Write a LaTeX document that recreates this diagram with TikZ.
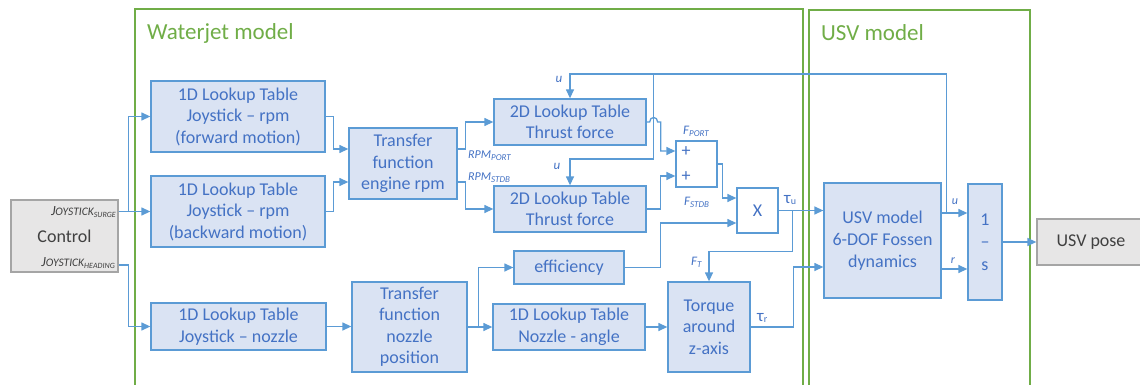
\documentclass[tikz,border=0pt]{standalone}
\usepackage{fontspec}
\setmainfont{Carlito}
\usetikzlibrary{arrows.meta,calc}
\definecolor{lblue}{HTML}{5B9BD5}
\definecolor{bfill}{HTML}{DAE3F3}
\definecolor{tblue}{HTML}{4472C4}
\definecolor{fgreen}{HTML}{70AD47}
\definecolor{gfill}{HTML}{E7E6E6}
\definecolor{gborder}{HTML}{A5A5A5}
\definecolor{gtext}{HTML}{404040}
\newcommand{\slab}[3]{{\fontsize{#1}{#1}\selectfont #2}\raisebox{-2pt}{\fontsize{9}{9}\selectfont #3}}
\newcommand{\joy}[1]{{\fontsize{14}{14}\selectfont J}{\fontsize{11.5}{11.5}\selectfont OYSTICK}\raisebox{-1.5pt}{\fontsize{8}{8}\selectfont #1}}
\begin{document}
\begin{tikzpicture}[x=1pt,y=-1pt,
  line/.style={draw=lblue,line width=1.3pt},
  arr/.style={line,-{Triangle[length=9pt,width=8pt]}},
  blk/.style={draw=lblue,fill=bfill,text=tblue,line width=1.3pt,align=center,inner sep=0pt,font=\fontsize{18}{21.5}\selectfont},
  wblk/.style={blk,fill=white},
  gblk/.style={draw=gborder,fill=gfill,text=gtext,line width=1.3pt,align=center,inner sep=0pt,font=\fontsize{18}{21.5}\selectfont},
  frame/.style={draw=fgreen,line width=1.2pt},
  ftitle/.style={anchor=west,text=fgreen,inner sep=0pt,font=\fontsize{23}{23}\selectfont},
  lbl/.style={text=tblue,inner sep=0pt,font=\itshape},
  sym/.style={text=tblue,inner sep=0pt,font=\fontsize{18}{18}\selectfont},
]
\useasboundingbox (0,0) rectangle (1140,385);
% frames
\draw[frame] (135,9) rectangle (803,395);
\draw[frame] (809,10) rectangle (1030,395);
\node[ftitle] (t1) at (147,33) {Waterjet model};
\node[ftitle] (t2) at (821,33) {USV model};

% blocks
\node[gblk,minimum width=107pt,minimum height=72pt] (ctrl) at (64.5,236) {Control};
\node[anchor=east,inner sep=0pt,text=gtext,font=\itshape] (js) at (116,212) {\joy{SURGE}};
\node[anchor=east,inner sep=0pt,text=gtext,font=\itshape] (jh) at (115,263) {\joy{HEADING}};

\node[blk,minimum width=174pt,minimum height=71pt] (fwd) at (238,116.5) {1D Lookup Table\\Joystick -- rpm\\(forward motion)};
\node[blk,minimum width=174pt,minimum height=71pt] (bwd) at (238,211.5) {1D Lookup Table\\Joystick -- rpm\\(backward motion)};
\node[blk,minimum width=175pt,minimum height=47pt] (lkn) at (238.5,326.5) {1D Lookup Table\\Joystick -- nozzle};
\node[blk,minimum width=108pt,minimum height=71pt] (tfe) at (403,163.5) {Transfer\\function\\engine rpm};
\node[blk,minimum width=115pt,minimum height=90pt] (tfn) at (409.5,327) {Transfer\\function\\nozzle\\position};
\node[blk,minimum width=152pt,minimum height=46pt] (tdt) at (570,122) {2D Lookup Table\\Thrust force};
\node[blk,minimum width=152pt,minimum height=46pt] (tdb) at (570,209) {2D Lookup Table\\Thrust force};
\node[blk,minimum width=110pt,minimum height=33pt] (eff) at (569,267.5) {efficiency};
\node[blk,minimum width=152pt,minimum height=46pt] (nza) at (569,327) {1D Lookup Table\\Nozzle - angle};
\node[wblk,minimum width=41pt,minimum height=46pt] (sum) at (696.5,164) {};
\node[sym] (p1) at (686,152) {+};
\node[sym] (p2) at (686,177) {+};
\node[wblk,minimum width=41pt,minimum height=45pt] (mul) at (757.5,210.5) {X};
\node[blk,minimum width=82pt,minimum height=90pt] (trq) at (709,327) {Torque\\around\\z-axis};
\node[blk,minimum width=117pt,minimum height=115pt,font=\fontsize{18}{22}\selectfont] (usv) at (882.5,240.5) {USV model\\6-DOF Fossen\\dynamics};
\node[blk,minimum width=34pt,minimum height=116pt,font=\fontsize{18}{22.5}\selectfont] (int) at (985,242) {1\\--\\s};
\node[gblk,minimum width=108pt,minimum height=46pt] (pose) at (1091,242) {USV pose};

% helper coordinates
\coordinate (ytop) at (0,74);
\coordinate (fb) at ($(usv.east)+(5,-27.5)$);
\coordinate (br) at ($(tdt.east |- ytop)+(7,0)$);
\coordinate (h) at (br |- tdt.east);
\coordinate (b2) at ($(mul.east)+(14,0)$);
\coordinate (b3) at ($(tfn.east)+(11,0)$);

% control connections
\draw[arr] (ctrl.east |- bwd.west) -- (bwd.west);
\draw[arr] (ctrl.east |- bwd.west) -- ++(10,0) |- (fwd.west);
\draw[arr] ($(ctrl.east)+(0,29)$) -- ++(10,0) |- (lkn.west);

% rpm path
\draw[arr] (fwd.east) -- ++(8,0) |- ($(tfe.west)+(0,-14.5)$);
\draw[arr] (bwd.east) -- ++(8,0) |- ($(tfe.west)+(0,18.5)$);
\draw[arr] ($(tfe.east)+(0,-14.5)$) -- ++(8,0) |- (tdt.west);
\draw[arr] ($(tfe.east)+(0,18.5)$) -- ++(8,0) |- (tdb.west);

% u feedback
\draw[arr] (fb) -- (fb |- ytop) -| (tdt.north);
\draw[arr] (br) -- ($(br)+(0,85)$) -| (tdb.north);

% thrust to sum
\draw[arr] (tdt.east) -- ($(h)+(-4,0)$) .. controls ($(h)+(-4,-6)$) and ($(h)+(4,-6)$) .. ($(h)+(4,0)$) -- ($(h)+(7,0)$) |- ($(sum.west)+(0,-13)$);
\draw[arr] (tdb.east) -- ($(h |- tdb.east)+(7,0)$) |- ($(sum.west)+(0,12)$);
\draw[arr] (sum.east) -- ++(5,0) |- ($(mul.west)+(0,-12.5)$);
\draw[arr] (eff.east) -- ++(36,0) |- ($(mul.west)+(0,12.5)$);
\draw[arr] (mul.east) -- (usv.west |- mul.east);
\draw[arr] (b2) |- ($(trq.north)+(0,-30)$) -- (trq.north);

% nozzle path
\draw[arr] (lkn.east) -- (tfn.west |- lkn.east);
\draw[arr] (tfn.east) -- (nza.west);
\draw[arr] (b3) |- (eff.west);
\draw[arr] (nza.east) -- (trq.west);
\draw[arr] (trq.east) -- ++(43,0) |- ($(usv.west)+(0,26.5)$);

% usv outputs
\draw[arr] ($(usv.east)+(0,-27.5)$) -- ($(int.west)+(0,-29)$);
\draw[arr] ($(usv.east)+(0,28.5)$) -- ($(int.west)+(0,27)$);
\draw[arr] (int.east) -- (pose.west);

% labels
\node[lbl,font=\fontsize{13}{13}\selectfont\itshape] (lu1) at (559,79) {u};
\node[lbl,font=\fontsize{13}{13}\selectfont\itshape] (lu2) at (557,166) {u};
\node[lbl,anchor=west] (lrp) at (468,156) {\slab{12}{RPM}{PORT}};
\node[lbl,anchor=west] (lrs) at (468,178) {\slab{12}{RPM}{STDB}};
\node[lbl,anchor=west] (lfp) at (683,131) {\slab{13}{F}{PORT}};
\node[lbl,anchor=west] (lfs) at (684,202) {\slab{13}{F}{STDB}};
\node[lbl,anchor=west] (lft) at (691,262) {\slab{13}{F}{T}};
\node[anchor=west,inner sep=0pt,text=tblue] (ltu) at (784,200) {{\fontsize{17}{17}\selectfont τ}\raisebox{-1pt}{\fontsize{10}{10}\selectfont u}};
\node[anchor=west,inner sep=0pt,text=tblue] (ltr) at (757,318) {{\fontsize{17}{17}\selectfont τ}\raisebox{-1pt}{\fontsize{10}{10}\selectfont r}};
\node[lbl,font=\fontsize{12}{12}\selectfont\itshape] (lu3) at (955,202) {u};
\node[lbl,font=\fontsize{12}{12}\selectfont\itshape] (lr) at (953,261) {r};
\end{tikzpicture}
\end{document}
